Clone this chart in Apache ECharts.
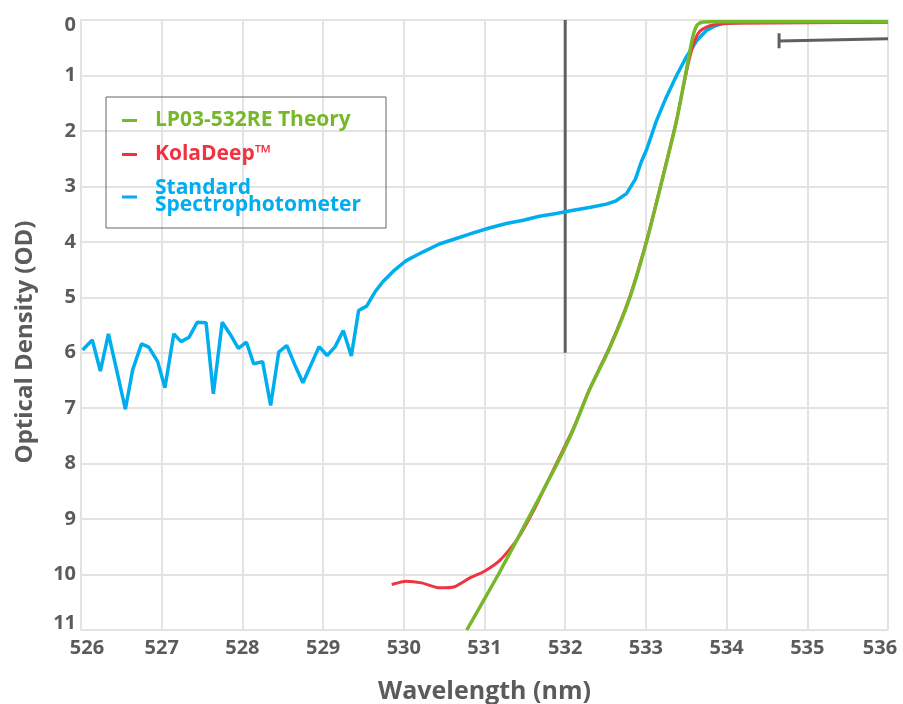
<!DOCTYPE html>
<html>
<head>
<meta charset="utf-8">
<script src="https://cdn.jsdelivr.net/npm/echarts@6/dist/echarts.min.js"></script>
<style>
html,body{margin:0;padding:0;background:#fff;}
#chart{width:903px;height:704px;}
</style>
</head>
<body>
<div id="chart"></div>
<script>
// ---- data ----
const theoryX = [530.78, 531.00, 531.19, 531.52, 531.89, 532.10, 532.30, 532.55, 532.80, 533.01, 533.21, 533.38, 533.50, 533.58, 533.63, 533.69, 533.80, 536.00];
const theoryY = [11.0, 10.44, 9.95, 9.05, 8.03, 7.39, 6.67, 5.92, 5.01, 3.99, 2.84, 1.82, 0.91, 0.31, 0.10, 0.04, 0.03, 0.03];

const kolaX = [529.85, 530.03, 530.22, 530.44, 530.63, 530.82, 531.00, 531.20, 531.40, 531.60, 531.89, 532.10, 532.30, 532.55, 532.80, 533.01, 533.21, 533.38, 533.50, 533.56, 533.62, 533.67, 533.75, 533.83, 534.08, 536.00];
const kolaY = [10.18, 10.12, 10.15, 10.24, 10.22, 10.06, 9.94, 9.73, 9.38, 8.87, 8.00, 7.37, 6.66, 5.90, 4.99, 3.97, 2.82, 1.80, 0.95, 0.58, 0.32, 0.20, 0.13, 0.09, 0.06, 0.04];

const specX = [526.02, 526.14, 526.24, 526.34, 526.44, 526.55, 526.64, 526.75, 526.84, 526.95,
  527.04, 527.15, 527.24, 527.34, 527.44, 527.55, 527.64, 527.75, 527.85, 527.95,
  528.05, 528.14, 528.25, 528.35, 528.45, 528.55, 528.65, 528.75, 528.84, 528.95,
  529.05, 529.15, 529.25, 529.35, 529.44, 529.54, 529.64, 529.74, 529.87, 530.03,
  530.24, 530.44, 530.65, 530.86, 531.06, 531.27, 531.48, 531.68, 531.89, 532.10,
  532.30, 532.51, 532.63, 532.76, 532.87, 532.94, 533.01, 533.13, 533.25, 533.38,
  533.50, 533.63, 533.75, 533.85, 533.95, 534.20, 536.00];
const specY = [5.95, 5.77, 6.33, 5.66, 6.30, 7.02, 6.31, 5.84, 5.90, 6.16,
  6.63, 5.66, 5.80, 5.72, 5.45, 5.46, 6.74, 5.45, 5.67, 5.92,
  5.81, 6.20, 6.16, 6.95, 5.99, 5.87, 6.22, 6.54, 6.25, 5.89,
  6.05, 5.89, 5.60, 6.06, 5.24, 5.16, 4.91, 4.72, 4.53, 4.34,
  4.18, 4.04, 3.94, 3.84, 3.75, 3.67, 3.61, 3.54, 3.49, 3.43,
  3.38, 3.32, 3.26, 3.13, 2.87, 2.57, 2.33, 1.82, 1.40, 1.00,
  0.67, 0.37, 0.19, 0.11, 0.06, 0.04, 0.03];

// reference marker lines (gray)
const markerVX = [532, 532];
const markerVY = [0, 6];
const markerHX = [534.65, 534.65, 534.65, 536.0];
const markerHY = [0.24, 0.51, 0.38, 0.34];

const xTicks = [526, 527, 528, 529, 530, 531, 532, 533, 534, 535, 536];
const yTicks = [0, 1, 2, 3, 4, 5, 6, 7, 8, 9, 10, 11];

const seriesNames = ['LP03-532RE Theory', 'KolaDeep\u2122', 'Standard\nSpectrophotometer'];
const colors = ['#77b82a', '#ef3340', '#00aeef'];

// ---- build ----
const zip = (xs, ys) => xs.map((x, i) => [x, ys[i]]);
const FONT = '"Open Sans"';
const TXT = '#5b5b5b';
const tickStyle = {fontFamily: FONT, fontWeight: 'bold', fontSize: 20, color: TXT};

const chart = echarts.init(document.getElementById('chart'), null, {renderer: 'canvas'});
chart.setOption({
  animation: false,
  backgroundColor: '#ffffff',
  grid: {left: 81, right: 15, top: 20, bottom: 74, containLabel: false, outerBoundsMode: 'none'},
  legend: {
    orient: 'vertical',
    left: 106, top: 97,
    padding: [13, 25, 12, 16],
    itemGap: 13,
    itemWidth: 15, itemHeight: 3,
    icon: 'rect',
    borderColor: '#666', borderWidth: 1, borderRadius: 0,
    data: seriesNames.map((n, i) => ({name: n, itemStyle: {color: colors[i]},
      textStyle: {color: colors[i], fontFamily: FONT, fontWeight: 'bold', fontSize: 21, lineHeight: 17, padding: [0, 0, 0, 13]}}))
  },
  xAxis: {
    type: 'value', min: xTicks[0], max: xTicks[xTicks.length - 1], interval: 1,
    name: 'Wavelength (nm)', nameLocation: 'middle', nameGap: 49,
    nameTextStyle: {fontFamily: FONT, fontWeight: 'bold', fontSize: 25, color: TXT},
    axisLine: {show: true, lineStyle: {color: '#e3e3e3', width: 2}},
    axisTick: {show: false},
    splitLine: {show: true, lineStyle: {color: '#e3e3e3', width: 2}},
    axisLabel: Object.assign({
      margin: 8,
      formatter: v => v === 526 ? '{l|' + v + '}' : (v === 536 ? '{r|' + v + '}' : String(v)),
      rich: {
        l: Object.assign({padding: [0, 0, 0, 12]}, tickStyle),
        r: Object.assign({padding: [0, 16, 0, 0]}, tickStyle)
      }
    }, tickStyle)
  },
  yAxis: {
    type: 'value', min: yTicks[0], max: yTicks[yTicks.length - 1], interval: 1, inverse: true,
    name: 'Optical Density (OD)', nameLocation: 'middle', nameGap: 44, nameRotate: 90,
    nameTextStyle: {fontFamily: FONT, fontWeight: 'bold', fontSize: 24, color: TXT, padding: [0, 34, 0, 0]},
    axisLine: {show: true, lineStyle: {color: '#e3e3e3', width: 2}},
    axisTick: {show: false},
    splitLine: {show: true, lineStyle: {color: '#e3e3e3', width: 2}},
    axisLabel: Object.assign({
      margin: 5,
      formatter: v => v === 0 ? '{t|0}' : (v === 11 ? '{b|11}' : String(v)),
      rich: {
        t: Object.assign({padding: [10, 0, 0, 0]}, tickStyle),
        b: Object.assign({padding: [0, 0, 14, 0]}, tickStyle)
      }
    }, tickStyle)
  },
  series: [
    {name: 'markerV', type: 'line', data: zip(markerVX, markerVY), symbol: 'none',
      lineStyle: {color: '#5f5f5f', width: 3}, silent: true, z: 1},
    {name: 'markerH', type: 'line', data: zip(markerHX, markerHY), symbol: 'none',
      lineStyle: {color: '#5f5f5f', width: 3}, silent: true, z: 1},
    {name: seriesNames[2], type: 'line', data: zip(specX, specY), symbol: 'none',
      itemStyle: {color: colors[2]}, lineStyle: {color: colors[2], width: 3.5}, z: 2},
    {name: seriesNames[1], type: 'line', data: zip(kolaX, kolaY), symbol: 'none', smooth: 0.2,
      itemStyle: {color: colors[1]}, lineStyle: {color: colors[1], width: 3}, z: 3},
    {name: seriesNames[0], type: 'line', data: zip(theoryX, theoryY), symbol: 'none', smooth: 0.2,
      itemStyle: {color: colors[0]}, lineStyle: {color: colors[0], width: 3.5}, z: 4}
  ]
});
</script>
</body>
</html>
